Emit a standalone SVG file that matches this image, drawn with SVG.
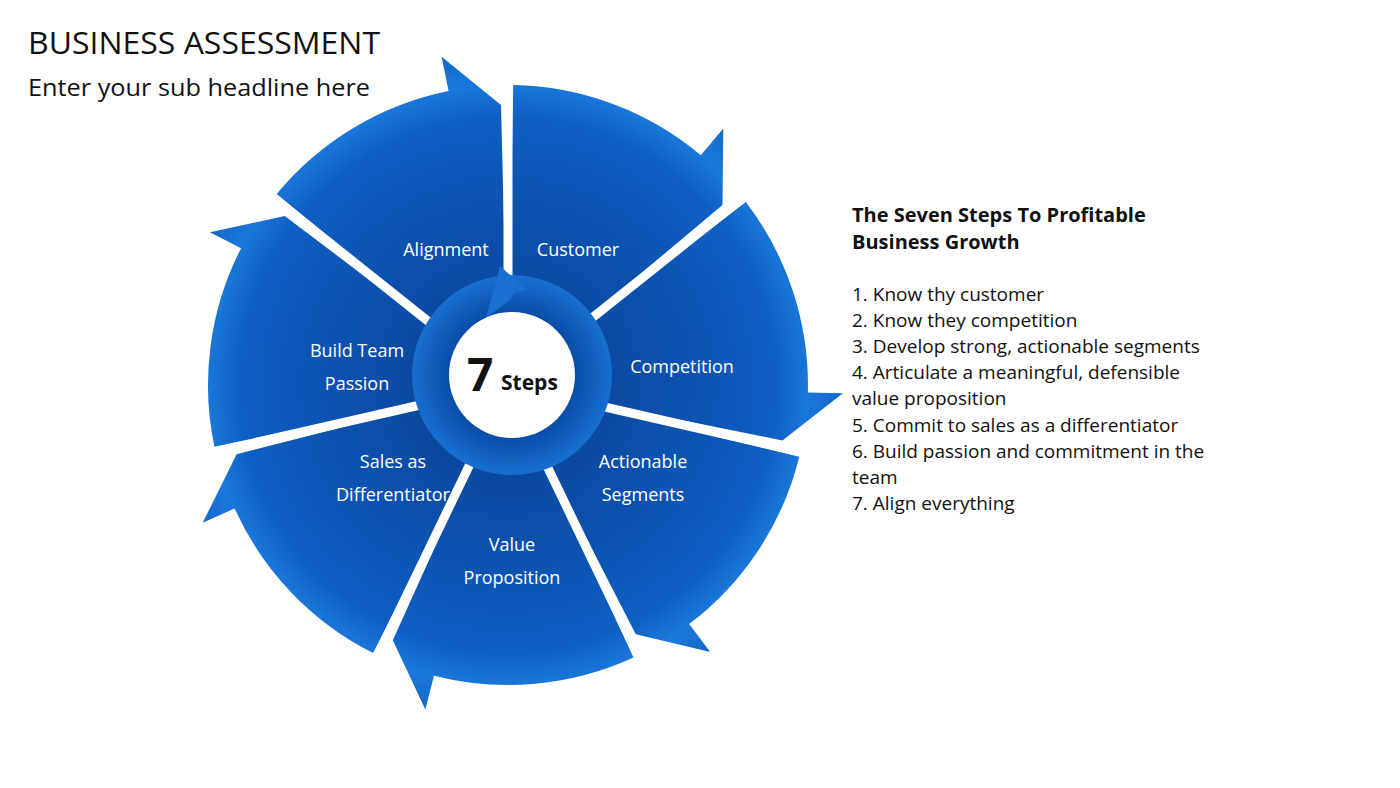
<svg xmlns="http://www.w3.org/2000/svg" width="1400" height="788" viewBox="0 0 1400 788">
<style>
.t{font-family:"Open Sans","Noto Sans",sans-serif;fill:#111}
.w{font-family:"Open Sans","Noto Sans",sans-serif;fill:#fff;font-size:18px;text-anchor:middle}
.seg{fill:url(#g);stroke:none}
</style>
<defs>
<radialGradient id="g" gradientUnits="userSpaceOnUse" cx="508" cy="385" r="335">
<stop offset="0" stop-color="#0a3f8f"/><stop offset="0.6" stop-color="#0d55b5"/><stop offset="0.8" stop-color="#0e5fc4"/><stop offset="0.9" stop-color="#1a78da"/><stop offset="1" stop-color="#1468c8"/>
</radialGradient>
<radialGradient id="ring" cx="0.5" cy="0.5" r="0.5"><stop offset="0.6" stop-color="#0a4aa5"/><stop offset="1" stop-color="#1770d0"/></radialGradient>
<path id="sp" class="seg" d="M508,385 L513.2,85 A300,300 0 0 1 700.8,155.2 L723.3,128.4 L722.5,205 Z"/>
</defs>
<rect width="1400" height="788" fill="#fff"/>
<text class="t" x="28" y="54" font-size="31" textLength="352" lengthAdjust="spacingAndGlyphs">BUSINESS ASSESSMENT</text>
<text class="t" x="28" y="96" font-size="24" textLength="342" lengthAdjust="spacingAndGlyphs">Enter your sub headline here</text>
<g id="wheel">
<g id="s1"><use href="#sp"/></g>
<g id="s2"><use href="#sp" transform="rotate(51.43 508 385)"/></g>
<g id="s3"><use href="#sp" transform="rotate(102.86 508 385)"/></g>
<g id="s4"><use href="#sp" transform="rotate(154.29 508 385)"/></g>
<g id="s5"><use href="#sp" transform="rotate(205.71 508 385)"/></g>
<g id="s6"><use href="#sp" transform="rotate(257.14 508 385)"/></g>
<g id="s7"><use href="#sp" transform="rotate(308.57 508 385)"/></g>
</g>
<g id="connectors" stroke="#fff" stroke-width="9">
<line x1="508" y1="385" x2="508" y2="75"/>
<line x1="508" y1="385" x2="508" y2="75" transform="rotate(51.43 508 385)"/>
<line x1="508" y1="385" x2="508" y2="75" transform="rotate(102.86 508 385)"/>
<line x1="508" y1="385" x2="508" y2="75" transform="rotate(154.29 508 385)"/>
<line x1="508" y1="385" x2="508" y2="75" transform="rotate(205.71 508 385)"/>
<line x1="508" y1="385" x2="508" y2="75" transform="rotate(257.14 508 385)"/>
<line x1="508" y1="385" x2="508" y2="75" transform="rotate(308.57 508 385)"/>
</g>
<g id="center">
<circle cx="512" cy="375" r="100" fill="url(#ring)"/>
<path d="M486,318 L500,266 L527,290 L514,293 L510,300 Z" fill="#1a6fd0"/>
<circle cx="512" cy="375" r="63" fill="#fff"/>
<text class="t" x="467" y="391" font-size="46" font-weight="bold">7</text>
<text class="t" x="501" y="390" font-size="21" font-weight="bold">Steps</text>
</g>
<g id="labels">
<text class="w" x="446" y="256">Alignment</text>
<text class="w" x="578" y="256">Customer</text>
<text class="w" x="682" y="373">Competition</text>
<text class="w" x="643" y="468">Actionable</text>
<text class="w" x="643" y="501">Segments</text>
<text class="w" x="512" y="551">Value</text>
<text class="w" x="512" y="584">Proposition</text>
<text class="w" x="393" y="468">Sales as</text>
<text class="w" x="393" y="501">Differentiator</text>
<text class="w" x="357" y="357">Build Team</text>
<text class="w" x="357" y="390">Passion</text>
</g>
<g id="text" class="t" font-size="19">
<text x="852" y="222" font-weight="bold" font-size="20">The Seven Steps To Profitable</text>
<text x="852" y="249" font-weight="bold" font-size="20">Business Growth</text>
<text x="852" y="301">1. Know thy customer</text>
<text x="852" y="327">2. Know they competition</text>
<text x="852" y="353">3. Develop strong, actionable segments</text>
<text x="852" y="379">4. Articulate a meaningful, defensible</text>
<text x="852" y="405">value proposition</text>
<text x="852" y="432">5. Commit to sales as a differentiator</text>
<text x="852" y="458">6. Build passion and commitment in the</text>
<text x="852" y="484">team</text>
<text x="852" y="510">7. Align everything</text>
</g>
</svg>
